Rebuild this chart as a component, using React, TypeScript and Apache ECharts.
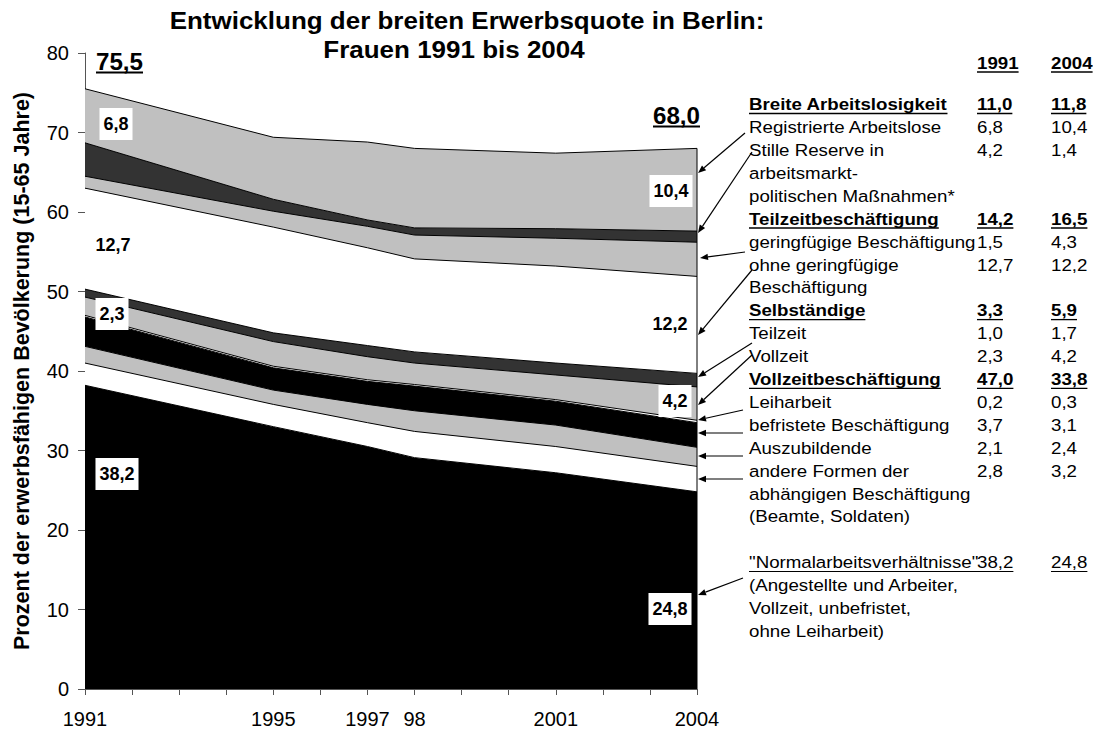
import React, { useEffect, useRef } from "react";
import * as echarts from "echarts";

// ---------- data ----------
const years = [1991, 1995, 1997, 1998, 2001, 2004];
const yearLabels: Record<number, string> = {
  1991: "1991",
  1995: "1995",
  1997: "1997",
  1998: "98",
  2001: "2001",
  2004: "2004",
};

// stacked from bottom to top
const normal = [38.2, 33.0, 30.5, 29.1, 27.2, 24.8];
const andere = [2.8, 2.8, 3.0, 3.3, 3.3, 3.2];
const azubi = [2.1, 1.8, 2.3, 2.6, 2.7, 2.4];
const befristet = [3.7, 2.8, 2.9, 3.1, 3.0, 3.1];
const leih = [0.2, 0.2, 0.2, 0.2, 0.2, 0.3];
const selbVoll = [2.3, 3.1, 2.9, 2.7, 3.1, 4.2];
const selbTeil = [1.0, 1.1, 1.4, 1.4, 1.5, 1.7];
const tzOhne = [12.7, 13.3, 12.3, 11.7, 12.2, 12.2];
const gering = [1.5, 2.0, 2.7, 3.0, 3.5, 4.3];
const stille = [4.2, 1.5, 0.8, 0.9, 1.2, 1.4];
const registriert = [6.8, 7.8, 9.8, 10.0, 9.5, 10.4];

const titleLines = ["Entwicklung der breiten Erwerbsquote in Berlin:", "Frauen 1991 bis 2004"];
const yAxisName = "Prozent der erwerbsfähigen Bevölkerung (15-65 Jahre)";

const FONT = '"Liberation Sans", Arial, Helvetica, sans-serif';
const LIGHT = "#c0c0c0";
const DARK = "#333333";

const layers = [
  { name: "Normalarbeitsverhältnisse", data: normal, color: "#000000" },
  { name: "andere Formen", data: andere, color: "#ffffff" },
  { name: "Auszubildende", data: azubi, color: LIGHT },
  { name: "befristete Beschäftigung", data: befristet, color: "#000000" },
  { name: "Leiharbeit", data: leih, color: "#ffffff" },
  { name: "Selbständige Vollzeit", data: selbVoll, color: LIGHT },
  { name: "Selbständige Teilzeit", data: selbTeil, color: DARK },
  { name: "Teilzeit ohne geringfügige", data: tzOhne, color: "#ffffff" },
  { name: "geringfügige Beschäftigung", data: gering, color: LIGHT },
  { name: "Stille Reserve", data: stille, color: DARK },
  { name: "Registrierte Arbeitslose", data: registriert, color: LIGHT },
];

const r1 = (v: number) => Math.round(v * 10) / 10;
const fmt = (v: number) => r1(v).toFixed(1).replace(".", ",");
const sumAt = (arrs: number[][], i: number) => arrs.reduce((s, a) => s + a[i], 0);
const last = years.length - 1;

const measure = (text: string, font: string) => {
  const ctx = document.createElement("canvas").getContext("2d");
  if (!ctx) return text.length * 9;
  ctx.font = font;
  return ctx.measureText(text).width;
};

type Row = { label: string; v?: number[][]; head?: boolean; normal?: boolean };
const tableRows: Row[] = [
  { label: "Breite Arbeitslosigkeit", v: [registriert, stille], head: true },
  { label: "Registrierte Arbeitslose", v: [registriert] },
  { label: "Stille Reserve in", v: [stille] },
  { label: "arbeitsmarkt-" },
  { label: "politischen Maßnahmen*" },
  { label: "Teilzeitbeschäftigung", v: [gering, tzOhne], head: true },
  { label: "geringfügige Beschäftigung", v: [gering] },
  { label: "ohne geringfügige", v: [tzOhne] },
  { label: "Beschäftigung" },
  { label: "Selbständige", v: [selbTeil, selbVoll], head: true },
  { label: "Teilzeit", v: [selbTeil] },
  { label: "Vollzeit", v: [selbVoll] },
  { label: "Vollzeitbeschäftigung", v: [leih, befristet, azubi, andere, normal], head: true },
  { label: "Leiharbeit", v: [leih] },
  { label: "befristete Beschäftigung", v: [befristet] },
  { label: "Auszubildende", v: [azubi] },
  { label: "andere Formen der", v: [andere] },
  { label: "abhängigen Beschäftigung" },
  { label: "(Beamte, Soldaten)" },
  { label: "" },
  { label: '"Normalarbeitsverhältnisse"', v: [normal], normal: true },
  { label: "(Angestellte und Arbeiter," },
  { label: "Vollzeit, unbefristet," },
  { label: "ohne Leiharbeit)" },
];

function buildGraphics() {
  const g: any[] = [];
  const text = (
    x: number,
    y: number,
    t: string,
    size: number,
    bold: boolean,
    align = "left",
    extra: any = {},
    sx = 1
  ) => {
    g.push({
      type: "text",
      x,
      y,
      z: 100,
      scaleX: sx,
      style: {
        text: t,
        fontSize: size,
        fontWeight: bold ? "bold" : "normal",
        fontFamily: FONT,
        fill: "#000",
        align,
        textAlign: align,
        verticalAlign: "middle",
        textVerticalAlign: "middle",
        ...extra,
      },
    });
  };
  const width = (t: string, size: number, bold: boolean, sx = 1) =>
    measure(t, `${bold ? "bold " : ""}${size}px ${FONT}`) * sx;
  const hline = (x1: number, x2: number, y: number, w = 1.3) => {
    g.push({ type: "line", z: 100, shape: { x1, y1: y, x2, y2: y }, style: { stroke: "#000", lineWidth: w } });
  };
  const ulText = (x: number, y: number, t: string, size: number, bold: boolean, off: number, w = 1.3, sx = 1) => {
    text(x, y, t, size, bold, "left", {}, sx);
    hline(x, x + width(t, size, bold, sx), y + off, w);
  };

  // title
  const TS = 1.13;
  text(467, 21, titleLines[0], 23, true, "center", {}, TS);
  text(454, 50, titleLines[1], 23, true, "center", {}, TS);

  // table
  const LX = 749;
  const C1 = 977;
  const C2 = 1051;
  const FS = 17;
  const SX = 1.1;
  const top = 104.5;
  const step = 22.9;
  ulText(C1, 63, String(years[0]), FS, true, 9, 1.3, SX);
  ulText(C2, 63, String(years[last]), FS, true, 9, 1.3, SX);
  tableRows.forEach((r, i) => {
    const y = top + i * step;
    if (!r.label) return;
    if (r.head) {
      ulText(LX, y, r.label, FS, true, 9, 1.3, SX);
      if (r.v) {
        ulText(C1, y, fmt(sumAt(r.v, 0)), FS, true, 9, 1.3, SX);
        ulText(C2, y, fmt(sumAt(r.v, last)), FS, true, 9, 1.3, SX);
      }
    } else if (r.normal && r.v) {
      const v1 = fmt(sumAt(r.v, 0));
      text(LX, y, r.label, FS, false, "left", {}, SX);
      text(C1, y, v1, FS, false, "left", {}, SX);
      hline(LX, C1 + width(v1, FS, false, SX), y + 9, 1);
      ulText(C2, y, fmt(sumAt(r.v, last)), FS, false, 9, 1, SX);
    } else {
      text(LX, y, r.label, FS, false, "left", {}, SX);
      if (r.v) {
        text(C1, y, fmt(sumAt(r.v, 0)), FS, false, "left", {}, SX);
        text(C2, y, fmt(sumAt(r.v, last)), FS, false, "left", {}, SX);
      }
    }
  });

  // totals
  const all = layers.map((l) => l.data);
  ulText(96, 62.5, fmt(sumAt(all, 0)), 23, true, 10, 2, 1.05);
  ulText(653, 116.5, fmt(sumAt(all, last)), 23, true, 10, 2, 1.05);

  // in-chart value labels
  const box = { backgroundColor: "#fff", padding: [7, 4] };
  text(116, 124, fmt(registriert[0]), 18, true, "center", box);
  text(113, 245, fmt(tzOhne[0]), 18, true, "center");
  text(112, 314, fmt(selbVoll[0]), 18, true, "center", box);
  text(117, 474, fmt(normal[0]), 18, true, "center", box);
  text(671, 191, fmt(registriert[last]), 18, true, "center", box);
  text(670, 324, fmt(tzOhne[last]), 18, true, "center");
  text(675, 401, fmt(selbVoll[last]), 18, true, "center", box);
  text(670, 609, fmt(normal[last]), 18, true, "center", box);

  // arrows from table to the chart edge
  const arrows = [
    [745, 133, 698, 173],
    [752, 152, 698, 233],
    [745, 252, 700, 258],
    [752, 270, 698, 335],
    [752, 343, 698, 377],
    [752, 355, 698, 405],
    [743, 410, 698, 420],
    [743, 433, 698, 433],
    [743, 456, 698, 456],
    [743, 479, 698, 479],
    [743, 578, 698, 595],
  ];
  arrows.forEach(([x1, y1, x2, y2]) => {
    const dx = x2 - x1;
    const dy = y2 - y1;
    const L = Math.hypot(dx, dy);
    const ux = dx / L;
    const uy = dy / L;
    const hl = 8;
    const hw = 3.2;
    const bx = x2 - ux * hl;
    const by = y2 - uy * hl;
    g.push({ type: "line", z: 100, shape: { x1, y1, x2: bx, y2: by }, style: { stroke: "#000", lineWidth: 1.2 } });
    g.push({
      type: "polygon",
      z: 100,
      shape: { points: [[x2, y2], [bx - uy * hw, by + ux * hw], [bx + uy * hw, by - ux * hw]] },
      style: { fill: "#000" },
    });
  });

  // y axis name
  g.push({
    type: "text",
    x: 22,
    y: 371,
    rotation: Math.PI / 2,
    z: 100,
    style: {
      text: yAxisName,
      fontSize: 21.5,
      fontWeight: "bold",
      fontFamily: FONT,
      fill: "#000",
      align: "center",
      textAlign: "center",
      verticalAlign: "middle",
      textVerticalAlign: "middle",
    },
  });
  return g;
}

export default function App() {
  const ref = useRef<HTMLDivElement>(null);
  useEffect(() => {
    if (!ref.current) return;
    const chart = echarts.init(ref.current, undefined, { renderer: "svg" });
    const total = layers.map((l) => l.data);
    // value first, year second: the stacked dimension is then the value (y)
    const series: any[] = layers.map((l) => ({
      name: l.name,
      type: "line",
      stack: "total",
      symbol: "none",
      encode: { x: 1, y: 0 },
      data: years.map((y, i) => [l.data[i], y]),
      lineStyle: { color: "#000", width: 1 },
      areaStyle: { color: l.color, opacity: 1 },
      itemStyle: { color: l.color },
      silent: true,
    }));
    series.push({
      name: "edge",
      type: "line",
      symbol: "none",
      encode: { x: 1, y: 0 },
      data: [
        [0, years[last]],
        [r1(sumAt(total, last)), years[last]],
      ],
      lineStyle: { color: "#000", width: 1 },
      silent: true,
      z: 5,
    });
    chart.setOption({
      animation: false,
      backgroundColor: "#fff",
      grid: { left: 85, right: 396, top: 53, bottom: 42 },
      xAxis: {
        type: "value",
        min: 1991,
        max: 2004,
        interval: 1,
        splitLine: { show: false },
        axisLine: { lineStyle: { color: "#555", width: 1 } },
        axisTick: { show: true, length: 6, lineStyle: { color: "#555" } },
        axisLabel: {
          color: "#000",
          fontSize: 20,
          fontFamily: FONT,
          margin: 20,
          showMinLabel: true,
          showMaxLabel: true,
          formatter: (v: number) => yearLabels[v] || "",
        },
      },
      yAxis: {
        type: "value",
        min: 0,
        max: 80,
        interval: 10,
        splitLine: { show: false },
        axisLine: { show: true, lineStyle: { color: "#555", width: 1 } },
        axisTick: { show: true, length: 7, lineStyle: { color: "#555" } },
        axisLabel: { color: "#000", fontSize: 20, fontFamily: FONT, margin: 16 },
      },
      graphic: buildGraphics(),
      series,
    });
    return () => chart.dispose();
  }, []);
  return <div ref={ref} style={{ position: "absolute", left: 0, top: 0, width: 1093, height: 731 }} />;
}
